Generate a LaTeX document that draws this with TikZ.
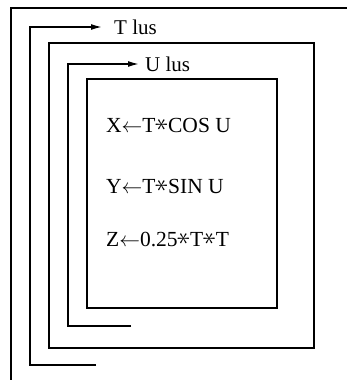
\documentclass[tikz,border=0pt]{standalone}
\usepackage{fontspec}
\setmainfont{Liberation Serif}
\usetikzlibrary{arrows.meta}
\newcommand{\mulsym}{\raisebox{0.02em}{\scalebox{1.3}{\rotatebox{90}{$\ast$}}}}
\begin{document}
\begin{tikzpicture}[x=1pt,y=-1pt,
  ln/.style={line width=1.5pt, line join=miter},
  lbl/.style={font=\fontsize{21}{24}\selectfont, inner sep=0pt, anchor=west},
  stmt/.style={font=\fontsize{21.5}{24}\selectfont, inner sep=0pt, anchor=base west},
  arr/.style={ln, -{Latex[length=11pt,width=6pt]}}]
\useasboundingbox (0,0) rectangle (347,380);
% outer frame
\coordinate (o1) at (11,380);
\coordinate (o2) at (11,8);
\coordinate (o3) at (347,8);
\draw[ln] (o1) -- (o2) -- (o3);
% T loop bracket
\node[lbl] (tl) at (114,27) {T lus};
\coordinate (tb) at (96,365);
\coordinate (tc) at (30,365);
\coordinate (tt) at (30,27);
\coordinate (te) at (102,27);
\draw[arr] (tb) -- (tc) -- (tt) -- (te);
% T box
\draw[ln] (49,43) rectangle (314,348);
% U loop bracket
\node[lbl] (ul) at (145,64) {U lus};
\coordinate (ub) at (131,326);
\coordinate (uc) at (68,326);
\coordinate (ut) at (68,64);
\coordinate (ue) at (139,64);
\draw[arr] (ub) -- (uc) -- (ut) -- (ue);
% inner box
\draw[ln] (87,79) rectangle (277,308);
% statements
\node[stmt] (sx) at (106,132) {X$\leftarrow$T\mulsym COS U};
\node[stmt] (sy) at (106,193) {Y$\leftarrow$T\mulsym SIN U};
\node[stmt] (sz) at (106,246) {Z$\leftarrow$0.25\mulsym T\mulsym T};
\end{tikzpicture}
\end{document}
